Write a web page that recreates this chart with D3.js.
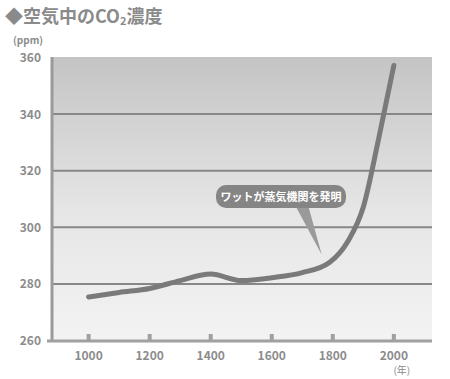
<!DOCTYPE html>
<html>
<head>
<meta charset="utf-8">
<script src="https://cdn.jsdelivr.net/npm/d3@7"></script>
<style>
  body { margin: 0; background: #fff; }
  svg { display: block; font-family: "Noto Sans CJK JP", "Noto Sans", sans-serif; }
</style>
</head>
<body>
<div id="chart"></div>
<script>
// ── Data ──
const years  = [1000, 1100, 1200, 1300, 1400, 1500, 1600, 1700, 1790, 1850, 1900, 1950, 2000];
const co2ppm = [275.2, 276.8, 278.2, 281, 283.3, 281, 282, 283.8, 287.5, 295, 307, 331, 357];
const yTicks = [260, 280, 300, 320, 340, 360];
const xTicks = [1000, 1200, 1400, 1600, 1800, 2000];
const note = { year: 1790, value: 288, text: 'ワットが蒸気機関を発明' };

const W = 450, H = 379;
const plot = { left: 52, right: 432, top: 57, bottom: 340 };
const grey = '#8c8c8c';

const svg = d3.select('#chart').append('svg')
  .attr('width', W).attr('height', H);

const x = d3.scaleLinear().domain([880, 2125]).range([plot.left, plot.right]);
const y = d3.scaleLinear().domain([260, 360]).range([plot.bottom, plot.top]);

// ── Background gradient ──
const grad = svg.append('defs').append('linearGradient')
  .attr('id', 'bg').attr('x1', 0).attr('x2', 0).attr('y1', 0).attr('y2', 1);
grad.append('stop').attr('offset', '0%').attr('stop-color', '#c4c4c4');
grad.append('stop').attr('offset', '55%').attr('stop-color', '#e6e6e6');
grad.append('stop').attr('offset', '100%').attr('stop-color', '#f3f3f3');

svg.append('rect')
  .attr('x', plot.left).attr('y', plot.top)
  .attr('width', plot.right - plot.left).attr('height', plot.bottom - plot.top)
  .attr('fill', 'url(#bg)');

// ── Grid ──
svg.append('g')
  .attr('transform', `translate(${plot.left},0)`)
  .call(d3.axisLeft(y).tickValues(yTicks.filter(d => d > 260 && d < 360))
    .tickSize(-(plot.right - plot.left)).tickFormat(''))
  .call(g => g.select('.domain').remove())
  .selectAll('line').attr('stroke', '#878787').attr('stroke-width', 2);

// ── Axes ──
svg.append('line')
  .attr('x1', plot.left).attr('x2', plot.left)
  .attr('y1', plot.top).attr('y2', plot.bottom + 2)
  .attr('stroke', '#9a9a9a').attr('stroke-width', 3);

svg.append('line')
  .attr('x1', plot.left - 5).attr('x2', plot.right)
  .attr('y1', plot.bottom + 1).attr('y2', plot.bottom + 1)
  .attr('stroke', '#a0a0a0').attr('stroke-width', 3);

svg.selectAll('.xtick').data(xTicks).enter().append('rect')
  .attr('x', d => x(d) - 2).attr('y', plot.bottom - 6)
  .attr('width', 4).attr('height', 6)
  .attr('fill', '#a0a0a0');

svg.selectAll('.ylabel').data(yTicks).enter().append('text')
  .attr('x', 41).attr('y', d => y(d) + 5)
  .attr('text-anchor', 'end')
  .attr('fill', grey).style('font-size', '12px').style('font-weight', 'bold')
  .text(d => d);

svg.selectAll('.xlabel').data(xTicks).enter().append('text')
  .attr('x', d => x(d)).attr('y', 360)
  .attr('text-anchor', 'middle')
  .attr('fill', grey).style('font-size', '12px').style('font-weight', 'bold')
  .text(d => d);

svg.append('text')
  .attr('x', x(2000) + 8).attr('y', 374)
  .attr('text-anchor', 'middle')
  .attr('fill', grey).style('font-size', '10px')
  .text('(年)');

svg.append('text')
  .attr('x', 13).attr('y', 44)
  .attr('fill', grey).style('font-size', '10px').style('font-weight', 'bold')
  .text('(ppm)');

// ── Title ──
const title = svg.append('text')
  .attr('x', 5).attr('y', 23)
  .attr('fill', '#8a8a8a').style('font-size', '18px').style('font-weight', 'bold');
title.append('tspan').text('◆空気中のCO');
title.append('tspan').attr('dy', 2).style('font-size', '11px').text('2');
title.append('tspan').attr('dy', -2).text('濃度');

// ── Line ──
const data = years.map((yr, i) => ({ year: yr, value: co2ppm[i] }));
svg.append('path')
  .datum(data)
  .attr('fill', 'none')
  .attr('stroke', '#7a7a7a')
  .attr('stroke-width', 5)
  .attr('stroke-linecap', 'round')
  .attr('d', d3.line()
    .x(d => x(d.year))
    .y(d => y(d.value))
    .curve(d3.curveMonotoneX));

// ── Callout ──
const tipX = x(note.year) - 8, tipY = y(note.value) - 6;
svg.append('path')
  .attr('d', `M295,205 L308,205 L${tipX},${tipY} Z`)
  .attr('fill', '#9a9a9a');

svg.append('rect')
  .attr('x', 216).attr('y', 185)
  .attr('width', 130).attr('height', 23)
  .attr('rx', 10)
  .attr('fill', '#858585');

svg.append('text')
  .attr('x', 281).attr('y', 201)
  .attr('text-anchor', 'middle')
  .attr('fill', '#fff').style('font-size', '11px').style('font-weight', 'bold')
  .text(note.text);
</script>
</body>
</html>
